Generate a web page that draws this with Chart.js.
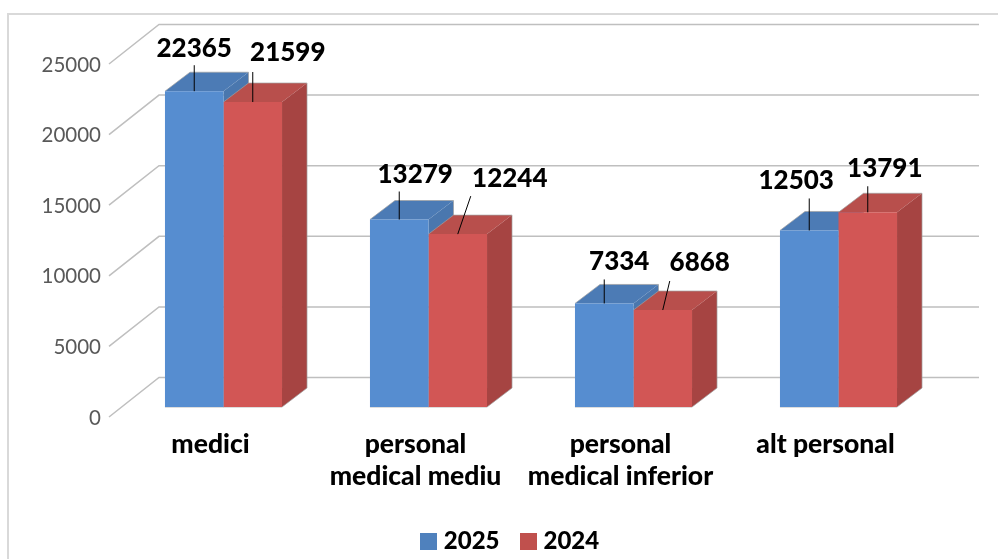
<!DOCTYPE html>
<html>
<head>
<meta charset="utf-8">
<title>Chart</title>
<script src="https://cdn.jsdelivr.net/npm/chart.js@4"></script>
<style>
body { margin: 0; background: #fff; }
canvas { display: block; }
</style>
</head>
<body>
<canvas id="myChart" width="998" height="559"></canvas>
<script>
const categories = [['medici'], ['personal', 'medical mediu'], ['personal', 'medical inferior'], ['alt personal']];
const values2025 = [22365, 13279, 7334, 12503];
const values2024 = [21599, 12244, 6868, 13791];
const yTicks = [0, 5000, 10000, 15000, 20000, 25000];

// decalage des etiquettes et des traits de rappel par rapport au haut de la barre
const labelOffsets = [
    [[0, -43], [16, -45], [15, -42], [-13, -50]],
    [[35, -49], [52, -56], [37, -47], [17, -44]]
];
const leaderEnds = [
    [[0, -26], [0, -28], [0, -24], [0, -32]],
    [[0, -30], [13, -38], [7, -29], [0, -26]]
];

const frontColors = ['#568dd0', '#d25655'];
const topColors = ['#4c7bb5', '#b84f4c'];
const sideColors = ['#4a77ae', '#a64442'];
const legendColors = ['#4f81bd', '#c0504d'];
const edgeColor = 'rgba(160,160,160,0.7)';
const depthX = 25;
const depthY = -19;

function swatch(color) {
    const c = document.createElement('canvas');
    c.width = 17;
    c.height = 17;
    const g = c.getContext('2d');
    g.fillStyle = color;
    g.fillRect(0, 0, 17, 17);
    return c;
}

// cadre et murs du graphique
const wallPlugin = {
    id: 'wall',
    beforeDatasetsDraw(chart) {
        const ctx = chart.ctx;
        const y = chart.scales.y;
        ctx.save();
        ctx.strokeStyle = '#d9d9d9';
        ctx.lineWidth = 2;
        ctx.beginPath();
        ctx.moveTo(1000, 14);
        ctx.lineTo(8, 14);
        ctx.lineTo(8, 561);
        ctx.stroke();

        ctx.strokeStyle = '#bfbfbf';
        ctx.lineWidth = 1.5;
        yTicks.forEach(v => {
            const py = y.getPixelForValue(v);
            ctx.beginPath();
            ctx.moveTo(109, py + 10);
            ctx.lineTo(159, py - 29.5);
            ctx.lineTo(979, py - 29.5);
            ctx.stroke();
        });

        // faces du dessus et de droite des barres
        chart.data.datasets.forEach((ds, d) => {
            chart.getDatasetMeta(d).data.forEach(bar => {
                const right = bar.x + bar.width / 2;
                const left = bar.x - bar.width / 2;
                ctx.fillStyle = topColors[d];
                ctx.beginPath();
                ctx.moveTo(left, bar.y);
                ctx.lineTo(left + depthX, bar.y + depthY);
                ctx.lineTo(right + depthX, bar.y + depthY);
                ctx.lineTo(right, bar.y);
                ctx.closePath();
                ctx.fill();
                ctx.fillStyle = sideColors[d];
                ctx.beginPath();
                ctx.moveTo(right, bar.y);
                ctx.lineTo(right + depthX, bar.y + depthY);
                ctx.lineTo(right + depthX, bar.base + depthY);
                ctx.lineTo(right, bar.base);
                ctx.closePath();
                ctx.fill();
                ctx.strokeStyle = edgeColor;
                ctx.lineWidth = 1;
                ctx.beginPath();
                ctx.moveTo(left, bar.y);
                ctx.lineTo(left + depthX, bar.y + depthY);
                ctx.lineTo(right + depthX, bar.y + depthY);
                ctx.lineTo(right + depthX, bar.base + depthY);
                ctx.lineTo(right, bar.base);
                ctx.lineTo(left, bar.base);
                ctx.stroke();
            });
        });
        ctx.restore();
    },
    afterLayout(chart) {
        chart.legend.left += 41.5;
        chart.legend.right += 41.5;
        chart.legend.top += 4;
        chart.legend.bottom += 4;
    }
};

// valeurs au dessus des barres avec trait de rappel
const valueLabelPlugin = {
    id: 'valueLabels',
    afterDatasetsDraw(chart) {
        const ctx = chart.ctx;
        ctx.save();
        ctx.font = '900 26px Lato';
        ctx.textAlign = 'center';
        ctx.textBaseline = 'middle';
        ctx.fillStyle = '#000';
        ctx.strokeStyle = '#000';
        ctx.lineWidth = 1;
        chart.data.datasets.forEach((ds, d) => {
            chart.getDatasetMeta(d).data.forEach((bar, i) => {
                ctx.beginPath();
                ctx.moveTo(bar.x, bar.y);
                ctx.lineTo(bar.x + leaderEnds[d][i][0], bar.y + leaderEnds[d][i][1]);
                ctx.stroke();
                ctx.fillText(ds.data[i], bar.x + labelOffsets[d][i][0], bar.y + labelOffsets[d][i][1]);
            });
        });
        ctx.restore();
    }
};

const ctx = document.getElementById('myChart').getContext('2d');
new Chart(ctx, {
    type: 'bar',
    data: {
        labels: categories,
        datasets: [
            { label: '2025', data: values2025, backgroundColor: frontColors[0] },
            { label: '2024', data: values2024, backgroundColor: frontColors[1] }
        ]
    },
    options: {
        responsive: false,
        animation: false,
        layout: { padding: { top: 54, left: 0, right: 57, bottom: 0 } },
        barPercentage: 1,
        categoryPercentage: 0.571,
        scales: {
            x: {
                grid: { display: false },
                border: { display: false },
                afterFit(scale) { scale.height = 93; },
                ticks: {
                    color: '#000',
                    font: { family: 'Lato', size: 26.5, weight: '900', lineHeight: 1.22 },
                    labelOffset: -13,
                    padding: 13,
                    maxRotation: 0,
                    autoSkip: false
                }
            },
            y: {
                min: 0,
                max: 25000,
                grid: { display: false },
                border: { display: false },
                afterFit(scale) { scale.width = 121; },
                afterBuildTicks(scale) { scale.ticks = yTicks.map(v => ({ value: v })); },
                ticks: {
                    color: '#595959',
                    font: { family: 'Lato', size: 20.5 },
                    labelOffset: 11,
                    padding: 12,
                    callback: v => String(v)
                }
            }
        },
        plugins: {
            title: { display: false },
            tooltip: { enabled: false },
            legend: {
                position: 'bottom',
                labels: {
                    color: '#000',
                    font: { family: 'Lato', size: 24, weight: '900' },
                    usePointStyle: true,
                    pointStyleWidth: 7,
                    boxHeight: 17,
                    padding: 25,
                    generateLabels(chart) {
                        return chart.data.datasets.map((ds, i) => ({
                            text: ds.label,
                            fontColor: '#000',
                            pointStyle: swatch(legendColors[i]),
                            datasetIndex: i
                        }));
                    }
                }
            }
        }
    },
    plugins: [wallPlugin, valueLabelPlugin]
});
</script>
</body>
</html>
